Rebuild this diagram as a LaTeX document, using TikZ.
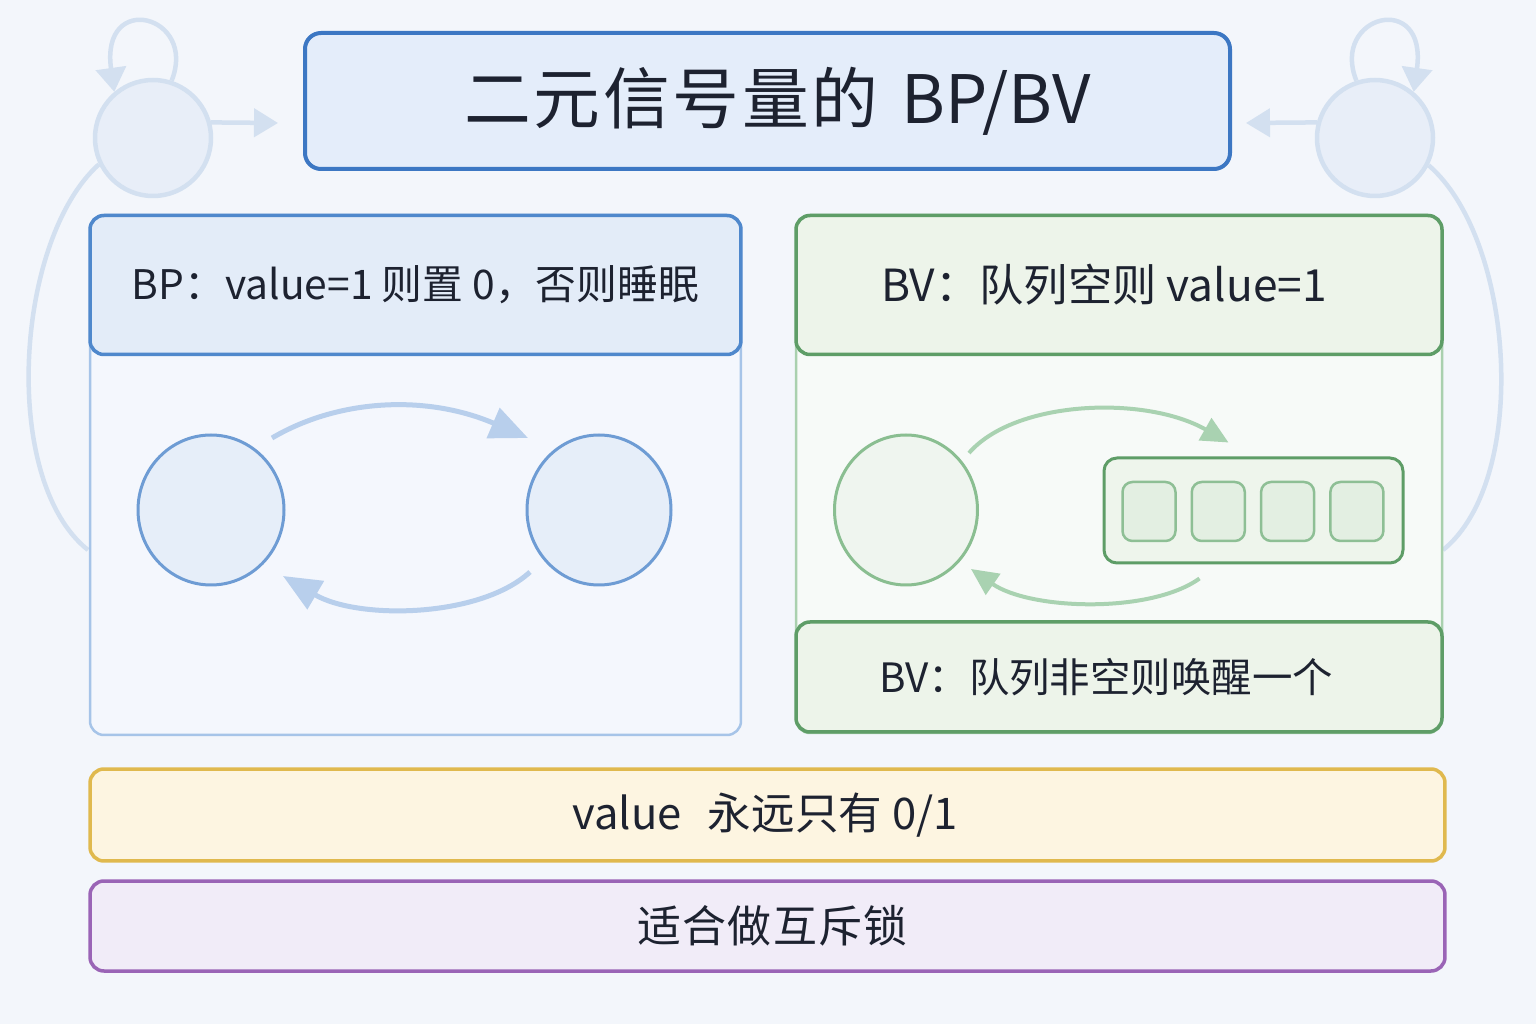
\documentclass[tikz,border=0pt]{standalone}
\usepackage{fontspec}
\setmainfont{Noto Sans CJK SC}
\newfontfamily\titlefont[LetterSpace=4]{Noto Sans CJK SC}
\newfontfamily\spacedfont[LetterSpace=3]{Noto Sans CJK SC}
\usetikzlibrary{arrows.meta,calc,shapes.geometric}

\definecolor{bgc}{HTML}{F3F6FB}
\definecolor{ink}{HTML}{1D2230}
\definecolor{decoline}{HTML}{D3E0F0}
\definecolor{decofill}{HTML}{E8EEF8}
\definecolor{titleline}{HTML}{3C77C3}
\definecolor{titlefill}{HTML}{E4EDFA}
\definecolor{bpline}{HTML}{A6C4E8}
\definecolor{bpfill}{HTML}{F4F7FD}
\definecolor{bphead}{HTML}{4F88CC}
\definecolor{bpheadfill}{HTML}{E3ECF8}
\definecolor{bpcircle}{HTML}{6E9CD4}
\definecolor{bpcirclefill}{HTML}{E6EEF9}
\definecolor{bparrowc}{HTML}{B8CFEC}
\definecolor{bvline}{HTML}{A9D0AE}
\definecolor{bvfill}{HTML}{F7FAF8}
\definecolor{bvhead}{HTML}{5E9D67}
\definecolor{bvheadfill}{HTML}{EDF4EA}
\definecolor{bvcircle}{HTML}{8ABE91}
\definecolor{bvcirclefill}{HTML}{EFF5EF}
\definecolor{bvarrowc}{HTML}{A9D2B1}
\definecolor{cellline}{HTML}{8EBF95}
\definecolor{cellfill}{HTML}{E3EFE2}
\definecolor{queuefill}{HTML}{EEF5EC}
\definecolor{ylwline}{HTML}{E0B94E}
\definecolor{ylwfill}{HTML}{FDF5E1}
\definecolor{purline}{HTML}{9A64B6}
\definecolor{purfill}{HTML}{F1ECF8}

\begin{document}
\begin{tikzpicture}[x=0.1mm,y=-0.1mm]
\tikzset{
  panel/.style={draw, rounded corners=1.4mm, line width=0.25mm, inner sep=0pt},
  head/.style={draw, rounded corners=1.4mm, line width=0.35mm, inner sep=0pt, text=ink},
  bar/.style={draw, rounded corners=1.4mm, line width=0.35mm, inner sep=0pt, text=ink,
    minimum width=135.5mm},
  deco/.style={draw=decoline, line width=0.45mm},
  state/.style={ellipse, draw, line width=0.3mm, minimum height=15mm},
  cell/.style={draw=cellline, fill=cellfill, rounded corners=1mm, line width=0.25mm,
    minimum width=5.3mm, minimum height=5.9mm},
  bparrow/.style={draw=bparrowc, line width=0.5mm,
    -{Triangle[length=3.8mm,width=3.2mm,fill=bparrowc]}},
  bvarrow/.style={draw=bvarrowc, line width=0.4mm,
    -{Triangle[length=2.7mm,width=2.5mm,fill=bvarrowc]}}
}
\useasboundingbox (0,0) rectangle (1536,1024);
\fill[bgc] (0,0) rectangle (1536,1024);

\node[circle, deco, fill=decofill, minimum size=11.6mm] (decol) at (153,138) {};
\node[circle, deco, fill=decofill, minimum size=11.6mm] (decor) at (1375,138) {};
\coordinate (decolend) at (278,123);
\coordinate (decorend) at (1246,123);
\coordinate (arcl) at (88,550);
\coordinate (arcr) at (1443,550);
\draw[deco] (decol.206) .. controls (15,240) and (0,480) .. (arcl);
\draw[deco] (decor.-27) .. controls (1515,240) and (1530,480) .. (arcr);
\draw[deco, -{Triangle[length=2.4mm,width=3mm,fill=decoline]}] (decol.72)
  .. controls (198,15) and (100,-10) .. (decol.130);
\draw[deco, -{Triangle[length=2.4mm,width=3mm,fill=decoline]}] (decor.108)
  .. controls (1330,15) and (1428,-10) .. (decor.50);
\draw[deco, -{Triangle[length=2.4mm,width=2.8mm,fill=decoline]}] (decol.15) -- (decolend);
\draw[deco, -{Triangle[length=2.4mm,width=2.8mm,fill=decoline]}] (decor.165) -- (decorend);

\node[draw=titleline, fill=titlefill, rounded corners=1.6mm, line width=0.4mm, text=ink,
  minimum width=92.5mm, minimum height=13.6mm, font=\fontsize{19}{23}\selectfont]
  (title) at (767.5,101) {\hspace*{2mm}{\titlefont 二元信号量的}\hspace{0.35em}BP/BV};

\node[panel, draw=bpline, fill=bpfill, minimum width=65.1mm, minimum height=52mm] (bp) at (415.5,475) {};
\node[head, draw=bphead, fill=bpheadfill, minimum width=65.1mm, minimum height=13.9mm,
  font=\fontsize{11.6}{14}\selectfont] (bph) at (415.5,285) {BP：value=1 则置 0，否则睡眠};
\node[state, draw=bpcircle, fill=bpcirclefill, minimum width=14.6mm] (bpa) at (211,510) {};
\node[state, draw=bpcircle, fill=bpcirclefill, minimum width=14.4mm] (bpb) at (599,510) {};
\draw[bparrow] ($(bpa)+(61,-72)$) .. controls (340,398) and (428,395) .. ($(bpb)+(-71,-72)$);
\draw[bparrow] ($(bpb)+(-69,62)$) .. controls (480,618) and (358,620) .. ($(bpa)+(72,66)$);

\node[panel, draw=bvline, fill=bvfill, minimum width=64.6mm, minimum height=51.8mm] (bv) at (1119,474) {};
\node[head, draw=bvhead, fill=bvheadfill, minimum width=64.6mm, minimum height=13.9mm,
  font=\fontsize{12.6}{15}\selectfont] (bvh) at (1119,285) {BV：队列空则 value=1\hspace*{3mm}};
\node[head, draw=bvhead, fill=bvheadfill, minimum width=64.6mm, minimum height=11mm,
  font=\fontsize{11.5}{14}\selectfont] (bvf) at (1119,677) {BV：队列非空则唤醒一个\hspace*{2.6mm}};
\node[state, draw=bvcircle, fill=bvcirclefill, minimum width=14.3mm] (bvc) at (906,510) {};
\node[draw=bvhead, fill=queuefill, rounded corners=1.3mm, line width=0.3mm,
  minimum width=29.9mm, minimum height=10.5mm] (queue) at (1253.5,510.5) {};
\foreach \i in {0,...,3}
  \node[cell] (cell\i) at (1149+69.3*\i,511.5) {};
\draw[bvarrow] ($(bvc)+(63,-57)$) .. controls (1015,400) and (1145,395) .. ($(queue.north)+(-25,-14)$);
\draw[bvarrow] ($(queue.south)+(-54,14)$) .. controls (1150,614) and (1030,610) .. ($(bvc)+(65,59)$);

\node[bar, draw=ylwline, fill=ylwfill, minimum height=9.2mm, font=\fontsize{12.4}{15}\selectfont]
  (val) at (767.5,815) {value\hspace{0.6em}永远只有 0/1\hspace*{0.5mm}};
\node[bar, draw=purline, fill=purfill, minimum height=9mm, font=\spacedfont\fontsize{12.5}{15}\selectfont]
  (mutex) at (767.5,926) {\hspace*{1mm}适合做互斥锁};
\end{tikzpicture}
\end{document}
